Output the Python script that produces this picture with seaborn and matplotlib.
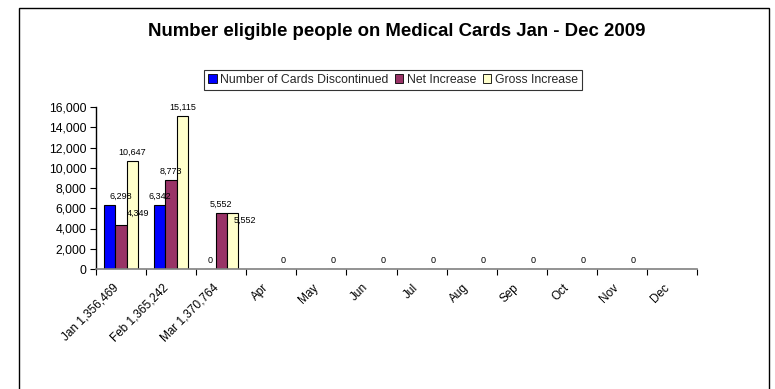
import matplotlib
matplotlib.use("Agg")
import matplotlib.pyplot as plt
import matplotlib.patches as mpatches
from matplotlib.transforms import ScaledTranslation
import numpy as np
import pandas as pd
import seaborn as sns

# Month labels (first quarter carries the total number of eligible people)
months = ["Jan 1,356,469", "Feb 1,365,242", "Mar 1,370,764", "Apr", "May", "Jun",
          "Jul", "Aug", "Sep", "Oct", "Nov", "Dec"]
series_names = ["Number of Cards Discontinued", "Net Increase", "Gross Increase"]

# Monthly values per series (None = no entry recorded)
cards_discontinued = [6298, 6342, 0, None, None, None, None, None, None, None, None, None]
net_increase = [4349, 8773, 5552, None, None, None, None, None, None, None, None, None]
gross_increase = [10647, 15115, 5552, 0, 0, 0, 0, 0, 0, 0, 0, None]

y_ticks = list(range(0, 16001, 2000))

colors = ["#0000FF", "#993366", "#FFFFCC"]

rows = []
for name, values in zip(series_names, [cards_discontinued, net_increase, gross_increase]):
    for month, v in zip(months, values):
        if v is not None:
            rows.append({"month": month, "series": name, "value": v})
df = pd.DataFrame(rows)

sns.set_theme(style="white")
plt.rcParams["font.family"] = ["Liberation Sans", "DejaVu Sans"]

fig = plt.figure(figsize=(7.75, 3.89), dpi=100)
ax = fig.add_axes([96 / 775, 1 - 269 / 389, (697 - 96) / 775, (269 - 107) / 389])

sns.barplot(data=df, x="month", y="value", hue="series", order=months,
            hue_order=series_names, palette=colors, width=0.68,
            edgecolor="black", linewidth=0.8, saturation=1, ax=ax, legend=False)

ax.set_xlim(-0.5, len(months) - 0.5)
ax.set_ylim(0, 16000)
ax.set_xlabel("")
ax.set_ylabel("")

# Axis styling
for side in ["top", "right"]:
    ax.spines[side].set_visible(False)
ax.spines["left"].set_color("black")
ax.spines["bottom"].set_color("#808080")
ax.spines["left"].set_linewidth(1.0)
ax.spines["bottom"].set_linewidth(1.2)

ax.set_yticks(y_ticks)
ax.set_yticklabels([f"{t:,}" for t in y_ticks], fontsize=8.8, color="black")
ax.tick_params(axis="y", direction="out", length=4, width=0.8, color="black",
               left=True, pad=3)

ax.set_xticks(np.arange(len(months)))
ax.set_xticklabels(months, rotation=45, ha="right", rotation_mode="anchor",
                   fontsize=8.5, color="black")
ax.tick_params(axis="x", which="major", length=0, pad=9, bottom=True)
shift = ScaledTranslation(-9 / 100, 0, fig.dpi_scale_trans)
for lbl in ax.get_xticklabels():
    lbl.set_transform(lbl.get_transform() + shift)
ax.set_xticks(np.arange(len(months) + 1) - 0.5, minor=True)
ax.tick_params(axis="x", which="minor", direction="out", length=4, width=0.8,
               color="black", bottom=True)

# Value labels above each bar; a few are nudged sideways to avoid crowding
nudges = {(0, 0): (8, 0), (1, 0): (12, 2), (2, 2): (9, -12)}
for j, container in enumerate(ax.containers):
    for patch in container.patches:
        h = patch.get_height()
        cx = patch.get_x() + patch.get_width() / 2
        cat = int(round(cx))
        dx, dy = nudges.get((j, cat), (0, 0))
        ax.annotate(f"{h:,.0f}", xy=(cx, h), xytext=(dx, 3 + dy),
                    textcoords="offset points", ha="center", va="bottom",
                    fontsize=6.5, color="black")

# Title and legend
fig.text(0.512, 1 - 32 / 389, "Number eligible people on Medical Cards Jan - Dec 2009",
         ha="center", va="center", fontsize=13.4, fontweight="bold", color="black")

handles = [mpatches.Patch(facecolor=c, edgecolor="black", linewidth=0.6) for c in colors]
leg = fig.legend(handles, series_names, loc="center", ncol=3,
                 bbox_to_anchor=(0.507, 1 - 80 / 389), fontsize=8.8,
                 frameon=True, fancybox=False, shadow=False,
                 handlelength=0.7, handleheight=0.7, handletextpad=0.3,
                 columnspacing=0.5, borderpad=0.35, borderaxespad=0)
leg.get_frame().set_edgecolor("black")
leg.get_frame().set_linewidth(0.8)

# Chart area border
border = mpatches.Rectangle((19 / 775, -0.05), (769 - 19) / 775, 1 - 8 / 389 + 0.05,
                            transform=fig.transFigure, fill=False,
                            edgecolor="black", linewidth=1.0)
fig.patches.append(border)

fig.savefig("out.png", dpi=100, facecolor="white")
